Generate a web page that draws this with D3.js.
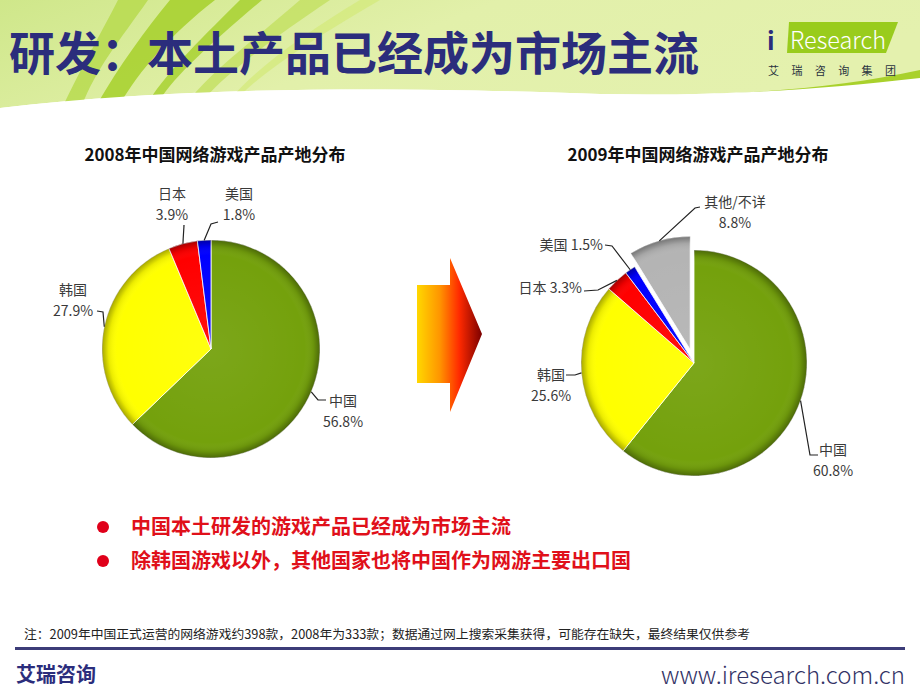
<!DOCTYPE html>
<html>
<head>
<meta charset="utf-8">
<script src="https://cdn.jsdelivr.net/npm/d3@7"></script>
<style>
  body { margin: 0; background: #fff; }
  text { font-family: "Noto Sans CJK SC", "Noto Sans", sans-serif; }
</style>
</head>
<body>
<div id="chart"></div>
<script>
// data
const labels2008 = ['中国', '韩国', '日本', '美国']
const values2008 = [56.8, 27.9, 3.9, 1.8]
const labels2009 = ['中国', '韩国', '日本', '美国', '其他/不详']
const values2009 = [60.8, 25.6, 3.3, 1.5, 8.8]
const colorNames = ['中国', '韩国', '日本', '美国', '其他/不详']
const colorValues = ['#74a10c', '#ffff00', '#ff0000', '#0000ff', '#b4b4b4']
const bullets = ['中国本土研发的游戏产品已经成为市场主流', '除韩国游戏以外，其他国家也将中国作为网游主要出口国']
const note = '注：2009年中国正式运营的网络游戏约398款，2008年为333款；数据通过网上搜索采集获得，可能存在缺失，最终结果仅供参考'

const W = 920, H = 690
const color = d3.scaleOrdinal().domain(colorNames).range(colorValues)

const svg = d3.select('#chart').append('svg')
    .attr('width', W)
    .attr('height', H)

const defs = svg.append('defs')

// header background
const hg = defs.append('linearGradient').attr('id', 'hdr')
    .attr('x1', 0).attr('y1', 0).attr('x2', 1).attr('y2', 0.3)
hg.append('stop').attr('offset', 0).attr('stop-color', '#cfe78a')
hg.append('stop').attr('offset', 0.5).attr('stop-color', '#e2f0aa')
hg.append('stop').attr('offset', 1).attr('stop-color', '#e4f1ae')

svg.append('path')
    .attr('d', 'M0,0 H920 V78 C800,92 700,96 600,94 C430,88 200,84 0,108 Z')
    .attr('fill', 'url(#hdr)')

// swooshes on the left
const sw = svg.append('g')
sw.append('path').attr('d', 'M118,0 H148 C120,40 95,70 82,106 L62,108 C80,70 100,35 118,0 Z').attr('fill', '#b5d94a').attr('opacity', 0.8)
sw.append('path').attr('d', 'M170,0 H215 C170,35 140,70 120,104 L96,106 C120,65 145,30 170,0 Z').attr('fill', '#a6d02a').attr('opacity', 0.85)
sw.append('path').attr('d', 'M240,0 H262 C215,40 175,75 160,100 L148,102 C170,68 205,35 240,0 Z').attr('fill', '#9ccc1a').attr('opacity', 0.7)
sw.append('path').attr('d', 'M300,0 H330 C270,40 225,75 205,98 L190,99 C215,68 260,35 300,0 Z').attr('fill', '#c3e060').attr('opacity', 0.8)
sw.append('path').attr('d', 'M360,0 H380 C320,35 265,70 240,96 L232,97 C260,65 310,30 360,0 Z').attr('fill', '#d4ea7e').attr('opacity', 0.8)

// green band along the wave on the right
svg.append('path')
    .attr('d', 'M560,96 C700,98 820,92 920,70 V82 C830,104 700,110 560,98 Z')
    .attr('fill', '#a9d12c')
svg.append('path')
    .attr('d', 'M0,108 C200,84 430,88 600,94 C700,96 800,92 920,78 V120 H0 Z')
    .attr('fill', '#fff')

// title
svg.append('text')
    .attr('x', 9).attr('y', 70)
    .attr('font-size', 46).attr('font-weight', 'bold')
    .attr('fill', '#2b2d7c')
    .attr('textLength', 690)
    .text('研发：本土产品已经成为市场主流')

// logo
svg.append('path').attr('d', 'M789,22 L898,22 L886,53 L787,53 Z').attr('fill', '#99cc1c')
svg.append('text').attr('x', 767).attr('y', 50).attr('font-size', 25).attr('font-weight', 'bold')
    .attr('fill', '#2b2d7c').attr('font-family', 'Roboto, sans-serif').text('i')
svg.append('text').attr('x', 790).attr('y', 49).attr('font-size', 24).attr('font-weight', 300)
    .attr('fill', '#fff').attr('font-family', 'Roboto, sans-serif')
    .attr('textLength', 96).attr('lengthAdjust', 'spacingAndGlyphs').text('Research')
svg.append('text').attr('x', 768).attr('y', 75).attr('font-size', 11)
    .attr('fill', '#2a3340').attr('textLength', 128).attr('lengthAdjust', 'spacing').text('艾瑞咨询集团')

// pies
const pie = d3.pie().sort(null).value(d => d.v).startAngle(0).endAngle(2 * Math.PI)

function drawPie(id, cx, cy, r, title, labels, values, layout, explodeName, explodeDist) {
  const data = labels.map((l, i) => ({ l: l, v: values[i] }))
  const arcs = pie(data)
  const arc = d3.arc().innerRadius(0).outerRadius(r)
  const g = svg.append('g').attr('transform', `translate(${cx},${cy})`)

  const sg = defs.append('radialGradient').attr('id', 'shade' + id)
      .attr('gradientUnits', 'userSpaceOnUse').attr('cx', 0).attr('cy', 0).attr('r', r)
  sg.append('stop').attr('offset', 0).attr('stop-color', '#fff').attr('stop-opacity', 0.06)
  sg.append('stop').attr('offset', 0.86).attr('stop-color', '#fff').attr('stop-opacity', 0)
  sg.append('stop').attr('offset', 0.94).attr('stop-color', '#000').attr('stop-opacity', 0.08)
  sg.append('stop').attr('offset', 1).attr('stop-color', '#000').attr('stop-opacity', 0.35)

  svg.append('text')
      .attr('x', cx + 4).attr('y', 161)
      .attr('text-anchor', 'middle')
      .attr('font-size', 17).attr('font-weight', 'bold').attr('fill', '#111')
      .text(title)

  arcs.forEach(a => {
    const mid = (a.startAngle + a.endAngle) / 2
    const off = a.data.l === explodeName ? explodeDist : 0
    const ox = Math.sin(mid) * off, oy = -Math.cos(mid) * off
    const sl = g.append('g').attr('transform', `translate(${ox},${oy})`)
    sl.append('path').attr('d', arc(a)).attr('fill', color(a.data.l))
        .attr('stroke', '#fff').attr('stroke-width', 0.8)
    sl.append('path').attr('d', arc(a)).attr('fill', `url(#shade${id})`)

    // leader + label
    const lay = layout[a.data.l]
    const sx = Math.sin(mid) * (r + off), sy = -Math.cos(mid) * (r + off)
    const pts = [[sx, sy]].concat(lay.line)
    g.append('path').attr('d', d3.line()(pts))
        .attr('fill', 'none').attr('stroke', '#222').attr('stroke-width', 1.2)
    const t = g.append('text').attr('font-size', 14).attr('fill', '#3a3a3a')
        .attr('text-anchor', lay.anchor)
    if (lay.oneLine) {
      t.append('tspan').attr('x', lay.x).attr('y', lay.y).text(a.data.l + ' ' + a.data.v + '%')
    } else {
      t.append('tspan').attr('x', lay.x).attr('y', lay.y).text(a.data.l)
      t.append('tspan').attr('x', lay.x).attr('y', lay.y + 21).text(a.data.v + '%')
    }
  })
}

const layout2008 = {
  '中国': { x: 132, y: 57, anchor: 'middle', line: [[107, 51], [115, 51]] },
  '韩国': { x: -138, y: -54, anchor: 'middle', line: [[-108, -37], [-114, -38]] },
  '日本': { x: -39, y: -150, anchor: 'middle', line: [[-27, -124]] },
  '美国': { x: 28, y: -150, anchor: 'middle', line: [[0, -125], [7, -127]] }
}
const layout2009 = {
  '中国': { x: 139, y: 92, anchor: 'middle', line: [[116, 92], [124, 92]] },
  '韩国': { x: -143, y: 17, anchor: 'middle', line: [[-119, 12], [-128, 12]] },
  '日本': { x: -112, y: -70, anchor: 'end', oneLine: true, line: [[-96, -73], [-110, -72]] },
  '美国': { x: -91, y: -113, anchor: 'end', oneLine: true, line: [[-82, -117], [-89, -118]] },
  '其他/不详': { x: 41, y: -156, anchor: 'middle', line: [[1, -155], [6, -156]] }
}

drawPie('a', 211, 349, 109, '2008年中国网络游戏产品产地分布', labels2008, values2008, layout2008, null, 0)
drawPie('b', 694, 363, 113, '2009年中国网络游戏产品产地分布', labels2009, values2009, layout2009, '其他/不详', 14)

// arrow
const ag = defs.append('linearGradient').attr('id', 'arr')
    .attr('gradientUnits', 'userSpaceOnUse').attr('x1', 417).attr('x2', 482).attr('y1', 0).attr('y2', 0)
ag.append('stop').attr('offset', 0).attr('stop-color', '#ffd800')
ag.append('stop').attr('offset', 0.35).attr('stop-color', '#ff9500')
ag.append('stop').attr('offset', 0.65).attr('stop-color', '#ff2a00')
ag.append('stop').attr('offset', 1).attr('stop-color', '#7a0000')
svg.append('path')
    .attr('d', 'M417,285 H450 V258 L482,334 L450,412 V383 H417 Z')
    .attr('fill', 'url(#arr)')

// bullets
bullets.forEach((b, i) => {
  const y = 534 + i * 34
  svg.append('circle').attr('cx', 103).attr('cy', y - 7).attr('r', 6).attr('fill', '#e0001a')
  svg.append('text').attr('x', 131).attr('y', y)
      .attr('font-size', 20).attr('font-weight', 'bold').attr('fill', '#e0101a')
      .text(b)
})

// footer
svg.append('text').attr('x', 24).attr('y', 639).attr('font-size', 12.5).attr('fill', '#222')
    .attr('textLength', 726).attr('lengthAdjust', 'spacingAndGlyphs').text(note)
svg.append('rect').attr('x', 15).attr('y', 647).attr('width', 890).attr('height', 3).attr('fill', '#3c3c78')
svg.append('text').attr('x', 16).attr('y', 682).attr('font-size', 20).attr('font-weight', 'bold')
    .attr('fill', '#2b2d7c').text('艾瑞咨询')
svg.append('text').attr('x', 905).attr('y', 684).attr('text-anchor', 'end').attr('font-size', 24)
    .attr('font-weight', 300).attr('fill', '#333366').attr('font-family', '"Open Sans", sans-serif')
    .text('www.iresearch.com.cn')
</script>
</body>
</html>
